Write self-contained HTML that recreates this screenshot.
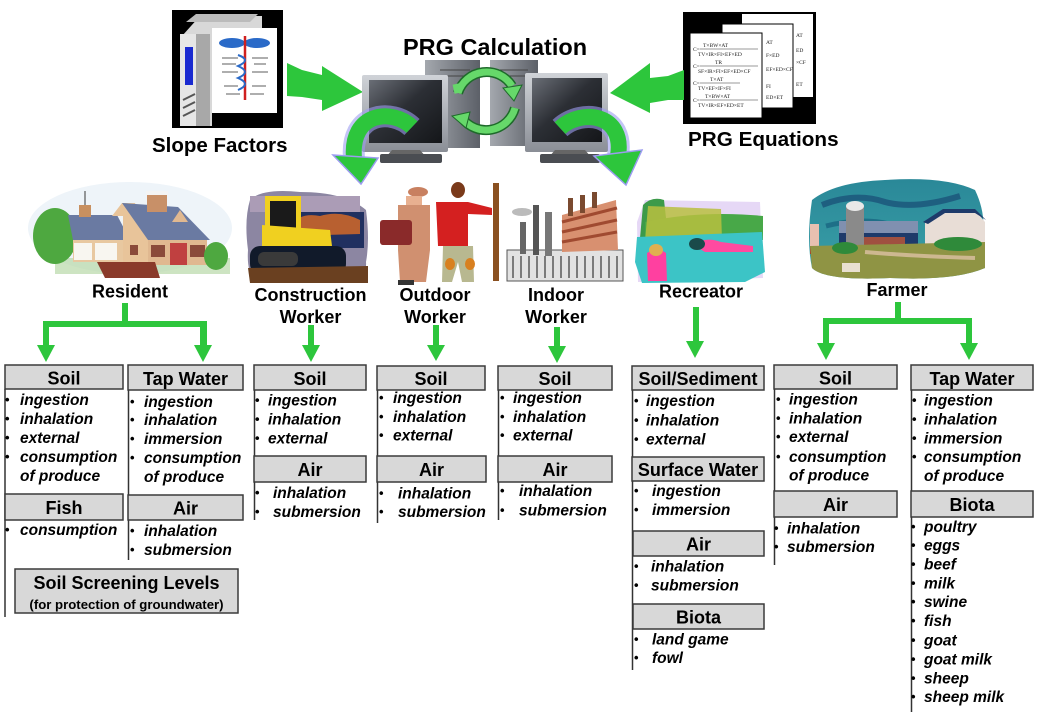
<!DOCTYPE html>
<html><head><meta charset="utf-8"><style>
html,body{margin:0;padding:0;background:#fff;}
svg{display:block;}
.h{font-family:"Liberation Sans",Arial,sans-serif;font-weight:bold;font-size:18px;text-anchor:middle;fill:#000;}
.it{font-family:"Liberation Sans",Arial,sans-serif;font-weight:bold;font-style:italic;font-size:15.5px;fill:#000;}
.bu{font-family:"Liberation Sans",Arial,sans-serif;font-weight:bold;font-size:13px;fill:#000;}
.lb{font-family:"Liberation Sans",Arial,sans-serif;font-weight:bold;font-size:18px;text-anchor:middle;fill:#000;}
.eq{font-family:"Liberation Serif",serif;font-size:5.5px;fill:#222;}
</style></head><body>
<svg width="1039" height="715" viewBox="0 0 1039 715" xmlns="http://www.w3.org/2000/svg">
<defs>
<linearGradient id="scr" x1="0" y1="0" x2="1" y2="1"><stop offset="0" stop-color="#6a6e76"/><stop offset="0.45" stop-color="#2c2f35"/><stop offset="1" stop-color="#141619"/></linearGradient>
<linearGradient id="frm" x1="0" y1="0" x2="0" y2="1"><stop offset="0" stop-color="#d0d3d8"/><stop offset="1" stop-color="#8a8e96"/></linearGradient>
<linearGradient id="twr" x1="0" y1="0" x2="1" y2="0"><stop offset="0" stop-color="#a4a8ae"/><stop offset="1" stop-color="#5c6068"/></linearGradient>
<linearGradient id="sky" x1="0" y1="0" x2="0" y2="1"><stop offset="0" stop-color="#2a8898"/><stop offset="1" stop-color="#3aa0a8"/></linearGradient>
</defs>

<!-- ===== Slope Factors book ===== -->
<rect x="172" y="10" width="111" height="118" fill="#000"/>
<polygon points="182,36 200,16 262,16 262,28 212,28 212,126 182,126" fill="#d8d8d8"/>
<polygon points="186,22 196,14 258,14 250,22" fill="#bbb"/>
<rect x="180" y="34" width="30" height="92" fill="#e6e6e6"/>
<rect x="196" y="34" width="14" height="92" fill="#a8a8a8"/>
<rect x="185" y="47" width="8" height="38" fill="#1a2ad0"/>
<line x1="183" y1="100" x2="195" y2="94" stroke="#555" stroke-width="2"/>
<line x1="183" y1="108" x2="195" y2="102" stroke="#555" stroke-width="2"/>
<line x1="183" y1="116" x2="195" y2="110" stroke="#555" stroke-width="2"/>
<rect x="212" y="28" width="65" height="85" fill="#fff"/>
<ellipse cx="232" cy="43" rx="13" ry="5" fill="#2a6ac8"/>
<ellipse cx="257" cy="43" rx="13" ry="5" fill="#2a6ac8"/>
<line x1="245" y1="36" x2="245" y2="100" stroke="#d02020" stroke-width="2.5"/>
<path d="M238 55 Q252 60 238 66 Q252 72 238 78 Q252 84 238 90" stroke="#2a6ac8" stroke-width="2" fill="none"/>
<g stroke="#777" stroke-width="1.2">
<line x1="222" y1="58" x2="238" y2="58"/><line x1="252" y1="58" x2="268" y2="58"/>
<line x1="222" y1="64" x2="236" y2="64"/><line x1="254" y1="64" x2="266" y2="64"/>
<line x1="222" y1="72" x2="238" y2="72"/><line x1="252" y1="72" x2="268" y2="72"/>
<line x1="224" y1="86" x2="238" y2="86"/><line x1="252" y1="86" x2="266" y2="86"/>
<line x1="226" y1="94" x2="240" y2="94"/><line x1="250" y1="94" x2="264" y2="94"/>
</g>
<text x="152" y="152" style="font-family:'Liberation Sans',Arial,sans-serif;font-weight:bold;font-size:20.5px;">Slope Factors</text>

<!-- arrow slope -> pc -->
<polygon points="287,63 302,70 322,75 322,66 363,92 322,111 322,100 302,97 287,96" fill="#2dc63c"/>

<!-- ===== PRG Equations ===== -->
<rect x="683" y="12" width="133" height="112" fill="#000"/>
<rect x="742" y="14" width="71" height="83" fill="#fff"/>
<rect x="722" y="24" width="71" height="84" fill="#fff" stroke="#000" stroke-width="1"/>
<rect x="690" y="33" width="72" height="85" fill="#fff" stroke="#000" stroke-width="1"/>
<g class="eq">
<text x="703" y="47">T×BW×AT</text><text x="693" y="51">C=</text><line x1="700" y1="49" x2="758" y2="49" stroke="#333" stroke-width="0.6"/><text x="698" y="56">TV×IR×FI×EF×ED</text>
<text x="715" y="64">TR</text><text x="693" y="68">C=</text><line x1="700" y1="66" x2="758" y2="66" stroke="#333" stroke-width="0.6"/><text x="698" y="73">SF×IR×FI×EF×ED×CF</text>
<text x="710" y="81">T×AT</text><text x="693" y="85">C=</text><line x1="700" y1="83" x2="740" y2="83" stroke="#333" stroke-width="0.6"/><text x="698" y="90">TV×EF×IF×FI</text>
<text x="705" y="98">T×BW×AT</text><text x="693" y="102">C=</text><line x1="700" y1="100" x2="758" y2="100" stroke="#333" stroke-width="0.6"/><text x="698" y="107">TV×IR×EF×ED×ET</text>
<text x="766" y="44">AT</text><text x="766" y="57">F×ED</text><text x="766" y="71">EF×ED×CF</text><text x="766" y="88">FI</text><text x="766" y="99">ED×ET</text>
<text x="796" y="37">AT</text><text x="796" y="52">ED</text><text x="796" y="64">×CF</text><text x="796" y="86">ET</text>
</g>
<text x="688" y="146" style="font-family:'Liberation Sans',Arial,sans-serif;font-weight:bold;font-size:20.7px;">PRG Equations</text>
<!-- arrow equations -> pc -->
<polygon points="684,70 668,76 650,78 650,63 610,93 650,113 650,103 668,100 684,100" fill="#2dc63c"/>

<!-- ===== Computers ===== -->
<text x="403" y="55" style="font-family:'Liberation Sans',Arial,sans-serif;font-weight:bold;font-size:23.5px;">PRG Calculation</text>
<rect x="425" y="60" width="55" height="88" fill="url(#twr)"/>
<rect x="490" y="60" width="48" height="86" fill="url(#twr)"/>
<g stroke="#444" stroke-width="1"><line x1="440" y1="70" x2="470" y2="70"/><line x1="440" y1="76" x2="470" y2="76"/><line x1="500" y1="70" x2="528" y2="70"/><line x1="500" y1="76" x2="528" y2="76"/></g>
<rect x="362" y="75" width="86" height="77" rx="2" fill="url(#frm)"/>
<rect x="369" y="80" width="73" height="63" fill="url(#scr)"/>
<polygon points="392,150 420,150 426,157 386,157" fill="#666"/>
<rect x="380" y="154" width="62" height="9" rx="2" fill="#4a4d52"/>
<rect x="525" y="73" width="83" height="79" rx="2" fill="url(#frm)"/>
<rect x="532" y="78" width="70" height="64" fill="url(#scr)"/>
<polygon points="555,150 585,150 591,157 549,157" fill="#666"/>
<rect x="540" y="154" width="60" height="9" rx="2" fill="#4a4d52"/>
<!-- circular arrows -->
<path d="M458 93 A30 30 0 0 1 512 86" stroke="#1e6a2a" stroke-width="10" fill="none"/>
<path d="M458 93 A30 30 0 0 1 512 86" stroke="#66d86a" stroke-width="7" fill="none"/>
<polygon points="503,88 522,85 514,101" fill="#66d86a" stroke="#1e6a2a" stroke-width="1"/>
<path d="M515 108 A30 30 0 0 1 462 118" stroke="#1e6a2a" stroke-width="10" fill="none"/>
<path d="M515 108 A30 30 0 0 1 462 118" stroke="#66d86a" stroke-width="7" fill="none"/>
<polygon points="470,112 452,116 466,128" fill="#66d86a" stroke="#1e6a2a" stroke-width="1"/>
<path d="M458 93 L456 84" stroke="#66d86a" stroke-width="7"/>
<!-- curved down arrows -->
<path d="M412 127 C392 108 350 112 354 158" stroke="#9c9cf0" stroke-width="22" fill="none" opacity="0.6"/>
<path d="M412 127 C392 108 350 112 354 158" stroke="#2dc63c" stroke-width="16" fill="none"/>
<polygon points="333,155 378,158 361,184" fill="#2dc63c" stroke="#9c9cf0" stroke-width="1.5"/>
<path d="M560 128 C582 108 625 114 618 156" stroke="#9c9cf0" stroke-width="22" fill="none" opacity="0.6"/>
<path d="M560 128 C582 108 625 114 618 156" stroke="#2dc63c" stroke-width="16" fill="none"/>
<polygon points="594,156 642,150 626,185" fill="#2dc63c" stroke="#9c9cf0" stroke-width="1.5"/>

<!-- ===== House ===== -->
<ellipse cx="130" cy="228" rx="102" ry="46" fill="#eef4f9"/>
<rect x="55" y="258" width="175" height="16" fill="#b8d8a8" opacity="0.7"/>
<ellipse cx="55" cy="236" rx="22" ry="28" fill="#4ea840"/>
<polygon points="68,215 117,215 130,240 73,240" fill="#6a7aa2"/>
<rect x="79" y="205" width="12" height="12" fill="#c89060"/>
<line x1="85" y1="191" x2="85" y2="205" stroke="#777" stroke-width="1.5"/>
<rect x="73" y="240" width="55" height="22" fill="#e8c8a0"/>
<rect x="74" y="243" width="18" height="17" fill="#f8f6f0"/>
<rect x="95" y="243" width="22" height="17" fill="#f8f6f0"/>
<polygon points="112,216 122,203 135,203 148,240 148,262 123,262 123,216" fill="#e8c49a"/>
<polygon points="122,203 178,207 210,240 148,240" fill="#6a7aa2"/>
<polygon points="172,222 180,210 188,222" fill="#e0b890"/>
<rect x="147" y="193" width="20" height="19" fill="#c89068"/>
<rect x="146" y="191" width="22" height="4" fill="#f4f4f4"/>
<rect x="148" y="240" width="59" height="25" fill="#e0b890"/>
<rect x="151" y="245" width="14" height="12" fill="#8a4a3a"/>
<rect x="190" y="245" width="15" height="12" fill="#8a4a3a"/>
<rect x="170" y="243" width="17" height="22" fill="#c04040"/>
<rect x="130" y="245" width="8" height="10" fill="#8a4a3a"/>
<ellipse cx="216" cy="256" rx="12" ry="14" fill="#4ea840"/>
<polygon points="97,262 155,262 160,278 105,278" fill="#8a3a2a"/>
<text class="lb" x="130" y="297.5">Resident</text>

<!-- ===== Bulldozer ===== -->
<path d="M250 200 Q262 188 300 192 Q345 192 366 210 Q370 240 366 262 Q368 283 330 282 L262 283 Q246 280 248 250 Q244 220 250 200 Z" fill="#8c86a2"/>
<rect x="250" y="196" width="110" height="16" fill="#ab9cb6"/>
<rect x="290" y="212" width="74" height="36" fill="#203060"/>
<path d="M290 226 Q300 212 320 216 Q340 210 360 220 L360 234 L290 236 Z" fill="#b86030"/>
<rect x="265" y="196" width="36" height="48" fill="#1a1a1a"/>
<rect x="265" y="196" width="36" height="5" fill="#f0d020"/>
<rect x="265" y="196" width="5" height="48" fill="#f0d020"/>
<rect x="296" y="196" width="5" height="48" fill="#f0d020"/>
<polygon points="262,225 330,230 332,246 262,246" fill="#f0d020"/>
<rect x="250" y="246" width="96" height="28" rx="10" fill="#111a2a"/>
<rect x="258" y="252" width="40" height="14" rx="6" fill="#3a3a3a"/>
<path d="M248 268 L368 266 L368 283 L250 283 Z" fill="#6a4020"/>
<text class="lb" x="310.5" y="301">Construction</text>
<text class="lb" x="310.5" y="323">Worker</text>

<!-- ===== Outdoor workers ===== -->
<ellipse cx="418" cy="192" rx="10" ry="5" fill="#c88060"/>
<rect x="406" y="196" width="16" height="12" fill="#e8b090"/>
<path d="M398 205 L430 205 L430 250 L426 282 L400 282 L398 250 Z" fill="#d09070"/>
<rect x="380" y="220" width="32" height="25" rx="3" fill="#8a2a2a"/>
<rect x="398" y="280" width="16" height="5" fill="#333"/>
<ellipse cx="458" cy="190" rx="7" ry="8" fill="#7a3a1a"/>
<path d="M436 202 L468 202 L492 208 L492 215 L468 214 L468 246 L438 246 Z" fill="#d42020"/>
<path d="M443 246 L473 246 L474 282 L462 282 L458 262 L452 282 L442 282 Z" fill="#b8b890"/>
<ellipse cx="450" cy="264" rx="5" ry="6" fill="#d88020"/>
<ellipse cx="470" cy="264" rx="5" ry="6" fill="#d88020"/>
<rect x="493" y="183" width="6" height="98" fill="#8a5020"/>
<text class="lb" x="435" y="301">Outdoor</text>
<text class="lb" x="435" y="323">Worker</text>

<!-- ===== Factory ===== -->
<rect x="507" y="250" width="116" height="31" fill="#e2e2e2" stroke="#555" stroke-width="1"/>
<g stroke="#444" stroke-width="1.3">
<line x1="513" y1="256" x2="513" y2="278"/><line x1="521" y1="256" x2="521" y2="278"/><line x1="529" y1="256" x2="529" y2="278"/><line x1="537" y1="256" x2="537" y2="278"/><line x1="545" y1="256" x2="545" y2="278"/><line x1="553" y1="256" x2="553" y2="278"/><line x1="561" y1="256" x2="561" y2="278"/><line x1="569" y1="256" x2="569" y2="278"/><line x1="577" y1="256" x2="577" y2="278"/><line x1="585" y1="256" x2="585" y2="278"/><line x1="593" y1="256" x2="593" y2="278"/><line x1="601" y1="256" x2="601" y2="278"/><line x1="609" y1="256" x2="609" y2="278"/><line x1="617" y1="256" x2="617" y2="278"/>
</g>
<polygon points="562,215 616,200 618,250 562,252" fill="#d89070"/>
<g stroke="#a04a30" stroke-width="3"><line x1="562" y1="222" x2="617" y2="208"/><line x1="562" y1="232" x2="617" y2="220"/><line x1="562" y1="242" x2="617" y2="232"/></g>
<rect x="533" y="205" width="6" height="50" fill="#555"/>
<rect x="545" y="212" width="7" height="44" fill="#777"/>
<rect x="520" y="222" width="6" height="32" fill="#666"/>
<rect x="568" y="198" width="5" height="18" fill="#7a4a30"/><rect x="580" y="195" width="5" height="18" fill="#7a4a30"/><rect x="592" y="192" width="5" height="16" fill="#7a4a30"/>
<ellipse cx="522" cy="212" rx="10" ry="4" fill="#bbb"/>
<text class="lb" x="556" y="301">Indoor</text>
<text class="lb" x="556" y="323">Worker</text>

<!-- ===== Recreator ===== -->
<path d="M645 200 L760 202 L763 278 L638 282 L637 222 Z" fill="#e6d8f6"/>
<path d="M643 205 Q652 196 664 200 L668 236 L640 238 Z" fill="#3c9a4a"/>
<path d="M645 222 Q700 210 763 216 L763 240 L645 240 Z" fill="#48a848"/>
<path d="M648 206 L721 209 L722 240 L645 242 Z" fill="#b8c040" opacity="0.85"/>
<path d="M637 237 L762 232 L765 272 L745 282 L642 283 L635 262 Z" fill="#3cc4c6"/>
<path d="M647 253 Q657 246 666 253 L667 281 L648 281 Z" fill="#ff40a0"/>
<ellipse cx="656" cy="250" rx="7" ry="6" fill="#e0b050"/>
<path d="M693 245 Q705 236 721 242 L753 246 L753 252 L705 252 Z" fill="#ff4aa0"/>
<ellipse cx="697" cy="244" rx="8" ry="6" fill="#1a4a4a"/>
<text class="lb" x="701" y="297.5">Recreator</text>

<!-- ===== Farm ===== -->
<path d="M812 200 Q835 182 885 180 Q945 176 975 190 Q987 215 982 240 L985 268 Q955 281 890 278 Q825 281 812 268 Q806 240 812 200 Z" fill="url(#sky)"/>
<path d="M822 205 Q855 192 885 202 Q915 210 960 196" stroke="#1e5f80" stroke-width="6" fill="none"/>
<path d="M826 226 Q866 216 896 226" stroke="#1e6f88" stroke-width="5" fill="none"/>
<rect x="810" y="224" width="9" height="28" fill="#e8c0b0"/>
<rect x="810" y="246" width="14" height="8" fill="#b02020"/>
<rect x="839" y="221" width="79" height="12" fill="#8090b0"/>
<rect x="839" y="233" width="79" height="13" fill="#1e3a6a"/>
<rect x="860" y="237" width="45" height="8" fill="#a05040"/>
<rect x="846" y="206" width="18" height="46" fill="#8a8a8a"/>
<ellipse cx="855" cy="206" rx="9" ry="5" fill="#e8e8e8"/>
<polygon points="925,222 943,210 975,210 985,222 985,246 925,246" fill="#e8ddd6"/>
<polygon points="923,222 943,209 975,209 986,220 975,213 945,213 928,224" fill="#1e3a6a"/>
<path d="M810 246 L985 242 L985 268 Q955 281 890 278 Q825 281 812 268 Z" fill="#8f9444"/>
<path d="M865 252 Q910 256 975 258" stroke="#cdb890" stroke-width="4" fill="none"/>
<ellipse cx="845" cy="248" rx="13" ry="6" fill="#2f8a3a"/>
<ellipse cx="958" cy="244" rx="24" ry="7" fill="#2f8a3a"/>
<rect x="842" y="263" width="18" height="9" fill="#e8e0d0"/>
<text class="lb" x="897" y="296">Farmer</text>

<!-- ===== Connectors ===== -->
<g fill="#2dc63c">
<rect x="122" y="303" width="6" height="21"/>
<rect x="43" y="321" width="164" height="6"/>
<rect x="43" y="321" width="6" height="25"/>
<polygon points="37,345 55,345 46,362"/>
<rect x="200" y="321" width="7" height="25"/>
<polygon points="194,345 212,345 203,362"/>
<rect x="308" y="325" width="6" height="21"/>
<polygon points="302,345 320,345 311,362"/>
<rect x="433" y="325" width="6" height="21"/>
<polygon points="427,345 445,345 436,361"/>
<rect x="554" y="327" width="6" height="20"/>
<polygon points="548,346 566,346 557,363"/>
<rect x="693" y="307" width="6" height="35"/>
<polygon points="686,341 704,341 695,358"/>
<rect x="895" y="302" width="6" height="20"/>
<rect x="823" y="318" width="149" height="6"/>
<rect x="823" y="318" width="6" height="26"/>
<polygon points="817,343 835,343 826,360"/>
<rect x="966" y="318" width="6" height="26"/>
<polygon points="960,343 978,343 969,360"/>
</g>

<!-- ===== Column lines ===== -->
<g stroke="#333" stroke-width="1.5">
<line x1="5" y1="389" x2="5" y2="617"/>
<line x1="128.5" y1="390" x2="128.5" y2="560"/>
<line x1="254.5" y1="390" x2="254.5" y2="520"/>
<line x1="377.5" y1="390" x2="377.5" y2="523"/>
<line x1="498.5" y1="390" x2="498.5" y2="520"/>
<line x1="632.5" y1="390" x2="632.5" y2="670"/>
<line x1="774.5" y1="389" x2="774.5" y2="565"/>
<line x1="911.5" y1="390" x2="911.5" y2="712"/>
</g>

<!-- ===== Header boxes ===== -->
<g fill="#d8d8d8" stroke="#3a3a3a" stroke-width="1.5">
<rect x="5" y="365" width="118" height="24"/>
<rect x="128" y="365" width="115" height="25"/>
<rect x="5" y="494" width="118" height="26"/>
<rect x="128" y="495" width="115" height="25"/>
<rect x="15" y="569" width="223" height="44"/>
<rect x="254" y="365" width="112" height="25"/>
<rect x="254" y="456" width="112" height="26"/>
<rect x="377" y="366" width="108" height="24"/>
<rect x="377" y="456" width="109" height="26"/>
<rect x="498" y="366" width="114" height="24"/>
<rect x="498" y="456" width="114" height="26"/>
<rect x="632" y="366" width="132" height="24"/>
<rect x="632" y="457" width="132" height="24"/>
<rect x="633" y="531" width="131" height="25"/>
<rect x="633" y="604" width="131" height="25"/>
<rect x="774" y="365" width="123" height="24"/>
<rect x="774" y="491" width="123" height="26"/>
<rect x="911" y="365" width="122" height="25"/>
<rect x="911" y="491" width="122" height="26"/>
</g>
<text class="h" x="64" y="384.5">Soil</text>
<text class="h" x="185.5" y="385">Tap Water</text>
<text class="h" x="64" y="514">Fish</text>
<text class="h" x="185.5" y="514.5">Air</text>
<text class="h" x="126.5" y="589">Soil Screening Levels</text>
<text x="126.5" y="609" style="font-family:'Liberation Sans',Arial,sans-serif;font-weight:bold;font-size:13.2px;text-anchor:middle;">(for protection of groundwater)</text>
<text class="h" x="310" y="385">Soil</text>
<text class="h" x="310" y="476">Air</text>
<text class="h" x="431" y="385">Soil</text>
<text class="h" x="431.5" y="476">Air</text>
<text class="h" x="555" y="385">Soil</text>
<text class="h" x="555" y="476">Air</text>
<text class="h" x="698" y="385">Soil/Sediment</text>
<text class="h" x="698" y="476">Surface Water</text>
<text class="h" x="698.5" y="550.5">Air</text>
<text class="h" x="698.5" y="623.5">Biota</text>
<text class="h" x="835.5" y="384.5">Soil</text>
<text class="h" x="835.5" y="511">Air</text>
<text class="h" x="972" y="385">Tap Water</text>
<text class="h" x="972" y="511">Biota</text>

<!-- ===== Items ===== -->
<g class="bu"><text x="5" y="404">•</text><text x="5" y="423">•</text><text x="5" y="442">•</text><text x="5" y="461">•</text><text x="5" y="534">•</text></g>
<g class="it"><text x="20" y="405">ingestion</text><text x="20" y="424">inhalation</text><text x="20" y="443">external</text><text x="20" y="462">consumption</text><text x="20" y="481">of produce</text><text x="20" y="535">consumption</text></g>
<g class="bu"><text x="130" y="406">•</text><text x="130" y="424">•</text><text x="130" y="443">•</text><text x="130" y="462">•</text><text x="130" y="535">•</text><text x="130" y="554">•</text></g>
<g class="it"><text x="144" y="407">ingestion</text><text x="144" y="425">inhalation</text><text x="144" y="444">immersion</text><text x="144" y="463">consumption</text><text x="144" y="482">of produce</text><text x="144" y="536">inhalation</text><text x="144" y="555">submersion</text></g>
<g class="bu"><text x="255" y="404.5">•</text><text x="255" y="423.5">•</text><text x="255" y="442.5">•</text><text x="255" y="497">•</text><text x="255" y="516">•</text></g>
<g class="it"><text x="268" y="405.5">ingestion</text><text x="268" y="424.5">inhalation</text><text x="268" y="443.5">external</text><text x="273" y="498">inhalation</text><text x="273" y="517">submersion</text></g>
<g class="bu"><text x="379" y="402">•</text><text x="379" y="421">•</text><text x="379" y="439.5">•</text><text x="379" y="497.5">•</text><text x="379" y="516">•</text></g>
<g class="it"><text x="393" y="403">ingestion</text><text x="393" y="422">inhalation</text><text x="393" y="440.5">external</text><text x="398" y="498.5">inhalation</text><text x="398" y="517">submersion</text></g>
<g class="bu"><text x="500" y="402">•</text><text x="500" y="421">•</text><text x="500" y="439.5">•</text><text x="500" y="495">•</text><text x="500" y="514.5">•</text></g>
<g class="it"><text x="513" y="403">ingestion</text><text x="513" y="422">inhalation</text><text x="513" y="440.5">external</text><text x="519" y="496">inhalation</text><text x="519" y="515.5">submersion</text></g>
<g class="bu"><text x="634" y="405">•</text><text x="634" y="424.5">•</text><text x="634" y="443.5">•</text><text x="634" y="495">•</text><text x="634" y="514">•</text><text x="634" y="570.5">•</text><text x="634" y="589.5">•</text><text x="634" y="643.5">•</text><text x="634" y="662">•</text></g>
<g class="it"><text x="646" y="406">ingestion</text><text x="646" y="425.5">inhalation</text><text x="646" y="444.5">external</text><text x="652" y="496">ingestion</text><text x="652" y="515">immersion</text><text x="651" y="571.5">inhalation</text><text x="651" y="590.5">submersion</text><text x="652" y="644.5">land game</text><text x="652" y="663">fowl</text></g>
<g class="bu"><text x="776" y="403.5">•</text><text x="776" y="422.5">•</text><text x="776" y="441">•</text><text x="776" y="461">•</text><text x="774" y="532.5">•</text><text x="774" y="551">•</text></g>
<g class="it"><text x="789" y="404.5">ingestion</text><text x="789" y="423.5">inhalation</text><text x="789" y="442">external</text><text x="789" y="462">consumption</text><text x="789" y="480.5">of produce</text><text x="787" y="533.5">inhalation</text><text x="787" y="552">submersion</text></g>
<g class="bu"><text x="912" y="404.5">•</text><text x="912" y="423.5">•</text><text x="912" y="442.5">•</text><text x="912" y="461">•</text>
<text x="911" y="531">•</text><text x="911" y="549.5">•</text><text x="911" y="568.5">•</text><text x="911" y="587.5">•</text><text x="911" y="606">•</text><text x="911" y="625">•</text><text x="911" y="644.5">•</text><text x="911" y="663.5">•</text><text x="911" y="682.5">•</text><text x="911" y="701">•</text></g>
<g class="it"><text x="924" y="405.5">ingestion</text><text x="924" y="424.5">inhalation</text><text x="924" y="443.5">immersion</text><text x="924" y="462">consumption</text><text x="924" y="481">of produce</text>
<text x="924" y="532">poultry</text><text x="924" y="550.5">eggs</text><text x="924" y="569.5">beef</text><text x="924" y="588.5">milk</text><text x="924" y="607">swine</text><text x="924" y="626">fish</text><text x="924" y="645.5">goat</text><text x="924" y="664.5">goat milk</text><text x="924" y="683.5">sheep</text><text x="924" y="702">sheep milk</text></g>
</svg>
</body></html>
